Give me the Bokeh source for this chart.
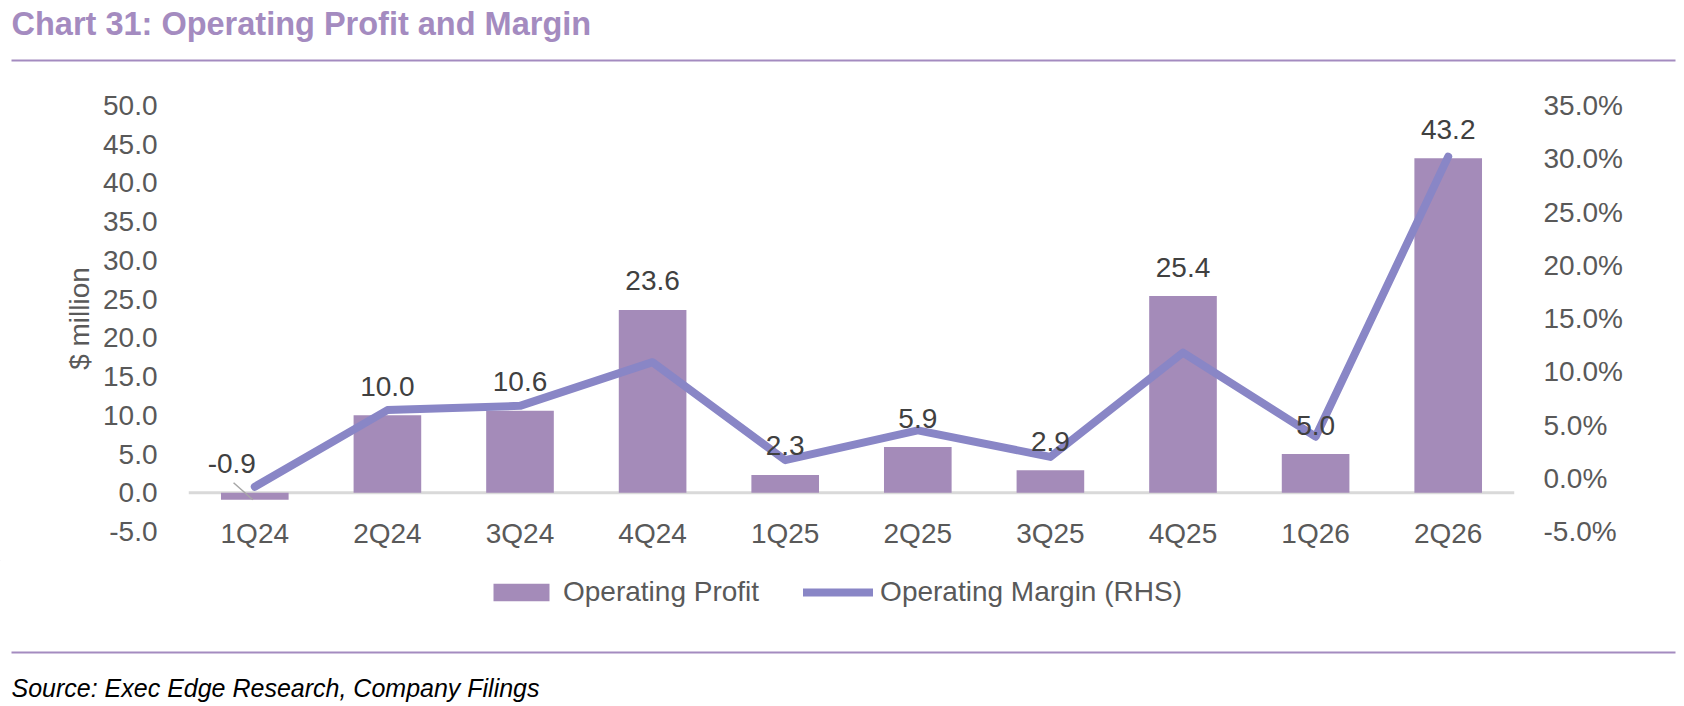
from bokeh.plotting import figure
from bokeh.layouts import column
from bokeh.models import (ColumnDataSource, FactorRange, Range1d, LinearAxis, SingleIntervalTicker,
                          PrintfTickFormatter, Span, Legend, LegendItem)
from bokeh.transform import dodge
from bokeh.core.properties import value
from bokeh.embed import file_html
from bokeh.resources import INLINE

# ---- data ----
categories = ["1Q24", "2Q24", "3Q24", "4Q24", "1Q25", "2Q25", "3Q25", "4Q25", "1Q26", "2Q26"]
operating_profit = [-0.9, 10.0, 10.6, 23.6, 2.3, 5.9, 2.9, 25.4, 5.0, 43.2]
operating_margin = [-0.8, 6.4, 6.8, 10.9, 1.7, 4.5, 2.0, 11.8, 3.9, 30.2]  # percent
left_ticks_interval = 5
right_ticks_interval = 5
series_names = ["Operating Profit", "Operating Margin (RHS)"]

title_text = "Chart 31: Operating Profit and Margin"
source_text = "Source: Exec Edge Research, Company Filings"

FONT = "Liberation Sans"
ACCENT = "#A48BC0"
BAR = "#A48BB9"
LINE = "#8986C6"
TICK = "#595959"
LABEL = "#404040"

W = 1680

def blank(h):
    f = figure(width=W, height=h, x_range=Range1d(0, W), y_range=Range1d(h, 0),
               toolbar_location=None, output_backend="svg", min_border=0,
               x_axis_location=None, y_axis_location=None)
    f.grid.visible = False
    f.outline_line_color = None
    return f

# ---- header ----
hdr_h = 72
header = blank(hdr_h)
header.text(x=[11], y=[23], text=[title_text], text_font=value(FONT), text_font_size="32.5px",
            text_font_style="bold", text_color=ACCENT, text_baseline="alphabetic", text_align="left")
header.segment(x0=[11], y0=[60], x1=[1675], y1=[60], line_color=ACCENT, line_width=2)

# ---- main chart ----
main_top = 72
main_h = 560 - main_top
src = ColumnDataSource(dict(
    cat=categories,
    profit=operating_profit,
    margin=operating_margin,
    label_y=[max(v, 0) for v in operating_profit],
    label=["%.1f" % v for v in operating_profit],
    label_dx=[-23 if v < 0 else 0 for v in operating_profit],
))

p = figure(width=W, height=main_h, x_range=FactorRange(factors=categories, range_padding=0),
           y_range=Range1d(-5, 50), toolbar_location=None, output_backend="svg",
           min_border_left=188, min_border_right=W - 1514, min_border_top=105 - main_top,
           min_border_bottom=560 - 531)
p.extra_y_ranges = {"pct": Range1d(-5, 35)}
p.grid.visible = False
p.outline_line_color = None

p.add_layout(Span(location=0, dimension="width", line_color="#D9D9D9", line_width=3, level="underlay"))

bars = p.vbar(x="cat", top="profit", bottom=0, width=0.51, source=src,
              fill_color=BAR, line_color=None)
line = p.line(x="cat", y="margin", source=src, y_range_name="pct", line_color=LINE,
              line_width=8, line_join="round", line_cap="round")

# leader line for the negative label
neg = [i for i, v in enumerate(operating_profit) if v < 0]
if neg:
    i = neg[0]
    lsrc = ColumnDataSource(dict(cat=[categories[i]], y0=[1.3], y1=[operating_profit[i]]))
    p.segment(x0=dodge("cat", -0.16, range=p.x_range), x1=dodge("cat", -0.015, range=p.x_range),
              y0="y0", y1="y1", source=lsrc, line_color="#A6A6A6", line_width=1.5)

p.text(x="cat", y="label_y", text="label", source=src, text_font=value(FONT),
       text_font_size="28px", text_color=LABEL, text_align="center", text_baseline="middle",
       y_offset=-29, x_offset="label_dx")

p.yaxis[0].ticker = SingleIntervalTicker(interval=left_ticks_interval)
p.yaxis[0].formatter = PrintfTickFormatter(format="%.1f")

raxis = LinearAxis(y_range_name="pct", ticker=SingleIntervalTicker(interval=right_ticks_interval),
                   formatter=PrintfTickFormatter(format="%.1f%%"))
p.add_layout(raxis, "right")

for ax in [p.yaxis[0], raxis]:
    ax.axis_line_color = None
    ax.major_tick_line_color = None
    ax.minor_tick_line_color = None
    ax.major_label_text_font = FONT
    ax.major_label_text_font_size = "28px"
    ax.major_label_text_color = TICK
p.yaxis[0].major_label_standoff = 25
raxis.major_label_standoff = 23

p.yaxis[0].axis_label = "$ million"
p.yaxis[0].axis_label_text_font = FONT
p.yaxis[0].axis_label_text_font_size = "28px"
p.yaxis[0].axis_label_text_font_style = "normal"
p.yaxis[0].axis_label_text_color = TICK
p.yaxis[0].axis_label_standoff = 5

xa = p.xaxis[0]
xa.axis_line_color = None
xa.major_tick_line_color = None
xa.major_tick_out = 0
xa.major_label_standoff = -14
xa.major_label_text_font = FONT
xa.major_label_text_font_size = "28px"
xa.major_label_text_color = TICK

# ---- footer (legend, rule, source) ----
ftr_top = 560
ftr_h = 704 - ftr_top
footer = blank(ftr_h)
# off-screen legend proxies styled like the chart series
pbar = footer.vbar(x=[-100], top=[-10], bottom=[-20], width=1, fill_color=BAR, line_color=None)
pline = footer.line(x=[-100, -90], y=[-10, -10], line_color=LINE, line_width=8, line_cap="round")
legend = Legend(items=[LegendItem(label=series_names[0], renderers=[pbar]),
                       LegendItem(label=series_names[1], renderers=[pline])],
                orientation="horizontal", location=(486, ftr_h - (592 - ftr_top) - 16),
                glyph_width=70, glyph_height=22, label_standoff=7, spacing=44, padding=0, margin=0,
                border_line_color=None, background_fill_alpha=0, label_text_font=FONT,
                label_text_font_size="28px", label_text_color=TICK)
footer.add_layout(legend)
footer.segment(x0=[11], y0=[652 - ftr_top], x1=[1675], y1=[652 - ftr_top], line_color=ACCENT, line_width=2)
footer.text(x=[11], y=[687 - ftr_top], text=[source_text], text_font=value(FONT), text_font_size="25px",
            text_font_style="italic", text_color="#000000", text_baseline="alphabetic", text_align="left")

layout = column(column(header), p, column(footer), spacing=0)
open("out.html", "w").write(file_html(layout, INLINE))
